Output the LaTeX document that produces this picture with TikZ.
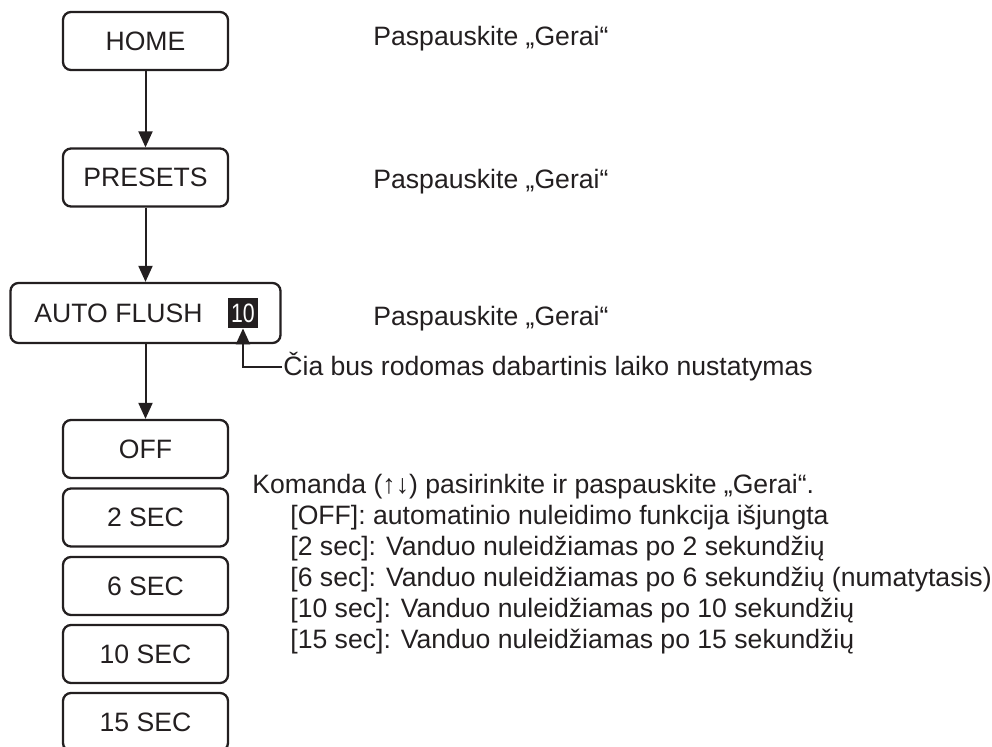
\documentclass[tikz,border=0pt]{standalone}
\usepackage{fontspec}
\setmainfont{Liberation Sans}
\usetikzlibrary{arrows.meta,positioning}
\definecolor{ink}{HTML}{231F20}

\begin{document}
\begin{tikzpicture}[x=0.5pt,y=0.5pt,
    every node/.style={text=ink,font=\fontsize{13.3}{16}\selectfont},
    menu/.style={draw=ink,line width=1.15pt,rounded corners=4pt,minimum width=82.5pt,minimum height=29pt,inner sep=0pt},
    flow/.style={draw=ink,line width=1pt,-{Triangle[length=8pt,width=7pt]}},
    note/.style={anchor=base west,inner sep=0pt}]
  \useasboundingbox (0,0) rectangle (992,-746);
  % menu path
  \node[menu] (home) at (145.5,-41) {HOME};
  \node[menu] (presets) at (145.5,-177.5) {PRESETS};
  \node[menu,minimum width=135pt,minimum height=30pt] (flush) at (145.5,-313) {};
  \node[inner sep=0pt] (flushtxt) at (118.5,-313) {AUTO FLUSH};
  \node[fill=ink,text=white,minimum size=15pt,inner sep=0pt] (val) at (243,-313) {\scalebox{0.8}[1]{10}};
  % choices
  \node[menu] (off) at (145.5,-449) {OFF};
  \node[menu] (sec2) at (145.5,-517.5) {2 SEC};
  \node[menu] (sec6) at (145.5,-586) {6 SEC};
  \node[menu] (sec10) at (145.5,-654) {10 SEC};
  \node[menu] (sec15) at (145.5,-722) {15 SEC};
  \draw[flow] (home) -- (presets);
  \draw[flow] (presets) -- (flush);
  \draw[flow] (flush) -- (off);
  % hints
  \node[note] (hint1) at (373,-45) {Paspauskite „Gerai“};
  \node[note] (hint2) at (373,-188.5) {Paspauskite „Gerai“};
  \node[note] (hint3) at (373,-325.5) {Paspauskite „Gerai“};
  \node[note] (cur) at (283,-375.5) {Čia bus rodomas dabartinis laiko nustatymas};
  \coordinate (curin) at (282,-367);
  \draw[flow] (curin) -| (val.south);
  \node[note] (cmd) at (252,-493.5) {Komanda (↑↓) pasirinkite ir paspauskite „Gerai“.};
  \node[note] (opt0) at (290,-524.5) {[OFF]: automatinio nuleidimo funkcija išjungta};
  \node[note] (opt2) at (290,-555.5) {[2 sec]: Vanduo nuleidžiamas po 2 sekundžių};
  \node[note] (opt6) at (290,-586.5) {[6 sec]: Vanduo nuleidžiamas po 6 sekundžių (numatytasis)};
  \node[note] (opt10) at (290,-617.5) {[10 sec]: Vanduo nuleidžiamas po 10 sekundžių};
  \node[note] (opt15) at (290,-648.5) {[15 sec]: Vanduo nuleidžiamas po 15 sekundžių};
\end{tikzpicture}
\end{document}
